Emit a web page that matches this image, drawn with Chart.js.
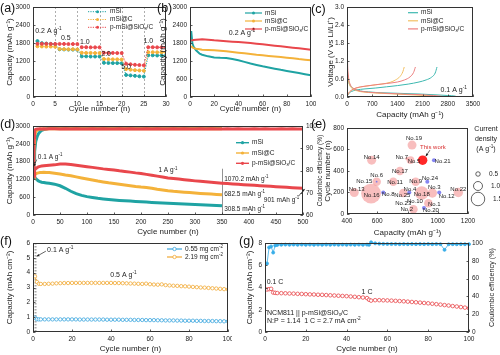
<!DOCTYPE html>
<html><head><meta charset="utf-8">
<script src="https://cdn.jsdelivr.net/npm/chart.js@4.4.1/dist/chart.umd.min.js"></script>
<style>
html,body{margin:0;padding:0;background:#fff;}
#wrap{position:relative;width:500px;height:355px;overflow:hidden;background:#fff;}
#wrap canvas{position:absolute;}
.pl{position:absolute;font-family:"Liberation Sans",Arial,sans-serif;font-size:12.5px;color:#111;line-height:1;z-index:5;}
</style></head><body>
<div id="wrap">
<div class="pl" style="left:0px;top:2px">(a)</div>
<div class="pl" style="left:157px;top:2px">(b)</div>
<div class="pl" style="left:311px;top:3px">(c)</div>
<div class="pl" style="left:0px;top:118px">(d)</div>
<div class="pl" style="left:311px;top:118px">(e)</div>
<div class="pl" style="left:0px;top:235px">(f)</div>
<div class="pl" style="left:239px;top:235px">(g)</div>
</div>
<script>
// ---------------- DATA ----------------
// (a) rate performance
const rateCycles = [1,2,3,4,5,6,7,8,9,10,11,12,13,14,15,16,17,18,19,20,21,22,23,24,25,26,27,28,29,30];
const rateMSi   = [1865,1795,1780,1770,1760, 1590,1585,1580,1580,1575, 1355,1355,1350,1350,1350, 1140,1135,1130,1130,1125, 735,720,705,690,680, 1390,1390,1385,1385,1385];
const rateMSiC  = [1690,1685,1680,1680,1675, 1600,1595,1590,1590,1585, 1475,1470,1470,1465,1465, 1265,1260,1255,1255,1250, 930,910,895,885,875, 1495,1495,1490,1490,1490];
const ratePMSi  = [1775,1775,1775,1770,1770, 1770,1770,1765,1765,1765, 1660,1660,1655,1655,1655, 1475,1470,1470,1465,1465, 1110,1090,1075,1065,1055, 1660,1660,1655,1655,1655];
const rateSwitch = [5,10,15,20,25];
const rateLabels = ['0.2 A g^{-1}','0.5','1.0','2.0','5.0','1.0'];
const rateLabelCycle = [0.5,7.4,11.7,16.5,21,26];
const rateLabelCap = [2210,1956,1845,1422,1011,1878];

// (b) cycling at 0.2 A g-1
const cycB    = [1,2,3,5,8,10,15,20,25,30,35,40,45,50,55,60,65,70,75,80,85,90,95,100];
const cycMSi  = [2200,1780,1670,1555,1445,1410,1355,1315,1305,1300,1265,1225,1170,1115,1070,1025,985,945,905,870,835,800,760,722];
const cycMSiC = [1700,1650,1630,1610,1590,1578,1565,1555,1540,1525,1500,1478,1455,1435,1410,1390,1370,1350,1330,1311,1290,1265,1245,1222];
const cycPMSi = [1880,1890,1900,1910,1918,1922,1910,1890,1875,1860,1845,1833,1815,1800,1778,1755,1735,1712,1690,1667,1645,1622,1600,1578];

// (c) voltage profiles at 0.1 A g-1
const cMSiDisCap  = [0,15,40,80,150,300,600,1000,1500,2000,2500,2800,3000,3060];
const cMSiDisV    = [1.05,0.8,0.55,0.4,0.3,0.22,0.17,0.14,0.12,0.1,0.07,0.05,0.03,0.005];
const cMSiChaCap  = [0,40,120,250,500,800,1100,1400,1700,2000,2200,2350,2450,2500];
const cMSiChaV    = [0.01,0.1,0.18,0.23,0.27,0.3,0.34,0.38,0.43,0.5,0.57,0.66,0.8,1.0];
const cMSiCDisCap = [0,15,40,80,150,300,600,1000,1500,2000,2400,2560];
const cMSiCDisV   = [1.2,0.85,0.55,0.38,0.28,0.2,0.15,0.12,0.09,0.06,0.03,0.005];
const cMSiCChaCap = [0,40,120,250,450,700,950,1200,1350,1470,1550,1590];
const cMSiCChaV   = [0.01,0.12,0.22,0.3,0.35,0.39,0.43,0.49,0.57,0.68,0.84,1.0];
const cPDisCap    = [0,5,15,40,80,150,300,600,1000,1500,2000,2400,2650,2740];
const cPDisV      = [3.0,2.0,1.2,0.7,0.45,0.32,0.22,0.16,0.13,0.1,0.08,0.05,0.02,0.005];
const cPChaCap    = [0,40,120,250,500,800,1100,1400,1600,1750,1850,1900];
const cPChaV      = [0.01,0.12,0.22,0.3,0.36,0.41,0.45,0.5,0.57,0.67,0.82,1.0];

// (d) long cycling at 1 A g-1
const dCycles = [1,2,3,5,8,10,13,16,20,25,30,40,50,60,70,80,90,100,110,120,130,140,150,160,170,180,190,200,210,220,230,240,250,260,270,280,290,300,310,320,330,340,350,360,370,380,390,400,410,420,430,440,450,460,470,480,490,500];
const dPMSi = [1920,1580,1520,1560,1600,1620,1640,1650,1660,1670,1680,1690,1720,1715,1700,1680,1655,1630,1605,1580,1555,1535,1515,1490,1470,1445,1420,1400,1370,1340,1310,1280,1250,1230,1210,1190,1170,1150,1134,1118,1102,1086,1070,1058,1046,1034,1022,1010,999,988,977,966,955,944,933,922,911,901];
const dMSiC = [1600,1420,1380,1390,1410,1420,1430,1436,1438,1435,1430,1410,1385,1350,1320,1285,1250,1215,1180,1145,1115,1085,1060,1035,1010,985,960,940,925,900,870,845,820,800,785,770,755,742,728,715,704,693,682.5];
const dMSi  = [1450,1380,1250,1230,1180,1150,1124,1105,1095,1080,1067,1040,985,900,800,720,660,620,590,562,540,522,505,492,480,470,458,447,436,425,414,404,393,385,377,369,361,353,344,335,326,317,308.5];
const dCEPMSi = [76.5,94.7,98.0,98.5,98.7,98.7,98.8,98.7,98.8,98.7,98.8,98.8,98.7,98.8,98.7,98.8,98.7,98.7,98.8,98.7,98.8,98.7,98.7,98.8,98.7,98.8,98.7,98.7,98.8,98.7,98.8,98.7,98.7,98.8,98.7,98.8,98.7,98.7,98.8,98.7,98.8,98.7,98.7,98.8,98.7,98.8,98.7,98.7,98.8,98.7,98.8,98.7,98.7,98.8,98.7,98.8,98.7,98.7];
const dCEMSiC = [81,92,95.5,97.5,98.2,98.5,98.6,98.7,98.7,98.7,98.8,98.8,98.8,98.8,98.8,98.8,98.8,98.8,98.8,98.8,98.8,98.8,98.8,98.8,98.8,98.8,98.8,98.8,98.8,98.8,98.8,98.8,98.8,98.8,98.8,98.8,98.8,98.8,98.8,98.8,98.8,98.8,98.8];
const dCEMSi  = [79,85.5,88.5,93,95.5,96.5,97.4,98,98.4,98.7,99,99.3,99.4,99.5,99.4,99.6,99.5,99.4,99.6,99.5,99.4,99.6,99.5,99.5,99.6,99.4,99.5,99.6,99.5,99.4,99.6,99.5,99.5,99.6,99.4,99.5,99.6,99.5,99.4,99.6,99.5,99.5,99.6];

// (e) comparison with literature
const eNames    = ['No.19','No.5','No.7','No.14','No.17','No.15','No.6','No.11','No.9','No.24','No.21','No.13','No.16','No.8','No.25','No.4','No.18','No.3','No.12','No.22','No.1','No.2','No.20','No.10','No.23'];
const eCapacity = [830,820,795,563,750,596,596,706,854,931,975,448,559,640,772,812,894,964,1010,1136,938,839,909,880,800];
const eCycles   = [640,500,515,500,400,300,300,300,300,300,500,200,190,200,195,200,195,195,200,200,100,45,55,110,80];
const eDensity  = [1.0,0.85,0.35,1.0,0.95,0.95,0.2,0.95,0.95,0.45,0.45,1.0,2.2,0.45,0.95,0.45,1.5,1.05,0.45,1.05,0.95,0.95,0.45,0,0];
const eGroup    = ['p','p','p','p','p','p','b','p','p','b','b','p','p','b','p','b','p','p','b','p','p','p','b','p','p'];
const eLabelCap = [843,843,762,563,750,514,596,717,854,949,1032,464,563,673,766,816,894,977,1059,1136,977,795,955,849,772];
const eLabelCyc = [701,485,524,530,396,306,360,290,306,330,492,231,171,186,171,231,180,245,162,231,90,42,30,120,96];
const thisWork  = {capacity:900, cycles:500, density:1.05};
const densityLegend = [0.5,1.0,1.5];

// (f) areal capacity
const fCycles = [1,2,3,4,6,8,10,12,14,16,18,20,22,24,26,28,30,32,34,36,38,40,42,44,46,48,50,52,54,56,58,60,62,64,66,68,70,72,74,76,78,80,82,84,86,88,90,92,94,96,98,100];
const fHigh = [3.75,3.38,3.25,3.24,3.24,3.25,3.26,3.28,3.29,3.3,3.3,3.31,3.31,3.31,3.31,3.31,3.31,3.31,3.31,3.31,3.31,3.31,3.3,3.3,3.29,3.28,3.27,3.26,3.25,3.24,3.26,3.22,3.2,3.19,3.21,3.16,3.14,3.12,3.11,3.09,3.08,3.06,3.04,3.02,3.0,2.99,2.97,2.95,2.93,2.91,2.89,2.87];
const fLow  = [0.97,0.86,0.85,0.85,0.85,0.85,0.85,0.85,0.85,0.85,0.85,0.85,0.85,0.84,0.84,0.84,0.84,0.84,0.84,0.84,0.83,0.83,0.83,0.83,0.82,0.82,0.82,0.81,0.81,0.81,0.8,0.8,0.8,0.79,0.79,0.78,0.78,0.78,0.77,0.77,0.76,0.76,0.76,0.75,0.75,0.74,0.74,0.74,0.73,0.73,0.72,0.72];

// (g) full cell
const gCycles = [1,2,3,4,5,6,8,10,12,14,16,18,20,22,24,26,28,30,32,34,36,38,40,42,44,46,48,50,51,52,54,56,58,60,62,64,66,68,70,72,74,76,78,80,82,84,86,88,90,92,94,96,98,100];
const gCap = [3.82,3.85,3.88,3.55,3.52,3.5,3.49,3.48,3.46,3.45,3.43,3.42,3.4,3.38,3.37,3.35,3.34,3.32,3.3,3.28,3.26,3.24,3.22,3.19,3.16,3.13,3.1,3.05,2.9,2.82,2.86,2.86,2.85,2.84,2.82,2.8,2.78,2.76,2.73,2.7,2.67,2.64,2.61,2.58,2.54,2.5,2.46,2.42,2.38,2.33,2.29,2.24,2.19,2.14];
const gCE  = [77,95,96.2,89.2,97.3,97.8,98.0,98.2,98.0,98.2,98.0,98.2,98.0,98.2,98.0,98.2,98.0,98.2,98.0,98.2,98.0,98.2,98.0,98.2,98.0,98.2,98.0,98.2,98.0,100.8,99.6,99.2,99.0,98.9,98.8,98.8,98.7,98.8,98.7,98.8,98.7,98.8,98.7,98.8,98.7,98.8,98.7,92.3,98.6,98.7,98.6,98.7,98.6,98.7];

// ---------------- HELPERS ----------------
const FAM = '"Liberation Sans", Arial, Helvetica, sans-serif';
Chart.defaults.font.family = FAM;
const TEAL='#1fa3a3', ORANGE='#f4b23a', RED='#e9474c';
const wrap = document.getElementById('wrap');
const DRAW = {};

function richParts(s){ const parts=[]; const re=/\^\{([^}]*)\}|_\{([^}]*)\}|([^\^_]+)/g; let m; while((m=re.exec(s))){ if(m[1]!==undefined) parts.push({t:m[1],k:'sup'}); else if(m[2]!==undefined) parts.push({t:m[2],k:'sub'}); else parts.push({t:m[3],k:'n'}); } return parts; }
function rich(ctx,s,x,y,size,color,align){
  const parts=richParts(s); let w=0;
  parts.forEach(p=>{ p.sz = p.k==='n'?size:size*0.68; ctx.font=p.sz+'px '+FAM; p.w=ctx.measureText(p.t).width; w+=p.w; });
  let cx = align==='center'? x-w/2 : align==='right'? x-w : x;
  ctx.save(); ctx.fillStyle=color; ctx.textBaseline='middle'; ctx.textAlign='left';
  parts.forEach(p=>{ ctx.font=p.sz+'px '+FAM; const dy = p.k==='sup'? -size*0.33 : p.k==='sub'? size*0.25 : 0; ctx.fillText(p.t,cx,y+dy); cx+=p.w; });
  ctx.restore(); return w;
}
function marker(ctx,x,y,r,color,open){ ctx.save(); ctx.beginPath(); ctx.arc(x,y,r,0,Math.PI*2); if(open){ ctx.fillStyle='#fff'; ctx.fill(); ctx.strokeStyle=color; ctx.lineWidth=0.8; ctx.stroke(); } else { ctx.fillStyle=color; ctx.fill(); } ctx.restore(); }
function legend(ctx,h,items,x0,x1,y0,dy,opt){
  items.forEach((it,i)=>{ const y=h.gy(y0+i*dy);
    ctx.save(); ctx.strokeStyle=it.c; ctx.lineWidth=opt.lw||1.2; ctx.setLineDash(opt.dash||[]);
    ctx.beginPath(); ctx.moveTo(h.gx(x0),y); ctx.lineTo(h.gx(x1),y); ctx.stroke(); ctx.restore();
    if(opt.marker) marker(ctx,h.gx((x0+x1)/2),y,opt.mr||1.6,it.c,opt.open);
    rich(ctx,it.t,h.gx(x1+3),y,opt.fs||6.5,'#222','left'); });
}
function arrow(ctx,x1,y1,x2,y2,color){ ctx.save(); ctx.strokeStyle=color; ctx.fillStyle=color; ctx.lineWidth=0.7; ctx.beginPath(); ctx.moveTo(x1,y1); ctx.lineTo(x2,y2); ctx.stroke(); const a=Math.atan2(y2-y1,x2-x1), L=3; ctx.beginPath(); ctx.moveTo(x2,y2); ctx.lineTo(x2-L*Math.cos(a-0.45),y2-L*Math.sin(a-0.45)); ctx.lineTo(x2-L*Math.cos(a+0.45),y2-L*Math.sin(a+0.45)); ctx.closePath(); ctx.fill(); ctx.restore(); }
function vtitle(ctx,text,x,y,size){ ctx.save(); ctx.translate(x,y); ctx.rotate(-Math.PI/2); ctx.font=size+'px '+FAM; ctx.fillStyle='#222'; ctx.textAlign='center'; ctx.textBaseline='middle'; ctx.fillText(text,0,0); ctx.restore(); }
function helpers(chart){ const b=DRAW[chart.canvas.id].box; return { X:v=>chart.scales.x.getPixelForValue(v), Y:v=>chart.scales.y.getPixelForValue(v), gx:x=>x-b.l, gy:y=>y-b.t, area:chart.chartArea }; }

const customPlugin = {
  id:'custom',
  beforeDatasetsDraw(chart){ const d=DRAW[chart.canvas.id]; if(d && d.pre){ const ctx=chart.ctx; ctx.save(); d.pre(ctx,helpers(chart)); ctx.restore(); } },
  afterDraw(chart){
    const d=DRAW[chart.canvas.id], ctx=chart.ctx, a=chart.chartArea;
    ctx.save(); ctx.strokeStyle='#333'; ctx.lineWidth=0.8;
    Object.values(chart.scales).forEach(s=>{ s.ticks.forEach(t=>{ const p=Math.round(s.getPixelForValue(t.value))+0.5; ctx.beginPath();
      if(s.axis==='x'){ ctx.moveTo(p,a.bottom); ctx.lineTo(p,a.bottom-2.5); }
      else if(s.position==='left'){ ctx.moveTo(a.left,p); ctx.lineTo(a.left+2.5,p); }
      else { ctx.moveTo(a.right,p); ctx.lineTo(a.right-2.5,p); }
      ctx.stroke(); }); });
    ctx.lineWidth=1; ctx.strokeStyle='#333';
    ctx.strokeRect(Math.round(a.left)+0.5, Math.round(a.top)+0.5, Math.round(a.right-a.left)-1, Math.round(a.bottom-a.top)-1);
    ctx.restore();
    if(d && d.post){ ctx.save(); d.post(ctx,helpers(chart)); ctx.restore(); }
  }
};

function zero(s){ s.paddingTop=0; s.paddingBottom=0; s.paddingLeft=0; s.paddingRight=0; }
function axis(pos,min,max,step,title,dec){
  return { type:'linear', position:pos, min:min, max:max,
    ticks:{ stepSize:step, autoSkip:false, maxRotation:0, minRotation:0, padding:3, color:'#222', font:{size:6.5,family:FAM},
      callback:(v)=> dec ? Number(v).toFixed(dec) : String(Math.round(v)) },
    grid:{ display:false, drawTicks:false },
    border:{ display:false },
    title:{ display:!!title, text:title||'', color:'#222', font:{size:8,family:FAM}, padding:0 } };
}
function pts(xs,ys){ return xs.map((x,i)=>({x:x,y:ys[i]})); }
function line(xs,ys,color,o){ return Object.assign({ data:pts(xs,ys), showLine:true, borderColor:color, backgroundColor:color, borderWidth:1.5, pointRadius:0, pointHoverRadius:0, fill:false, tension:0 }, o||{}); }

function make(id,box,plot,cfg,pre,post){
  const c=document.createElement('canvas'); c.id=id; c.width=box.w; c.height=box.h;
  c.style.left=box.l+'px'; c.style.top=box.t+'px'; c.style.width=box.w+'px'; c.style.height=box.h+'px';
  wrap.appendChild(c);
  DRAW[id]={pre:pre,post:post,box:box};
  const sc=cfg.options.scales;
  sc.x.afterFit = s=>{ s.height = box.t+box.h-plot.b; zero(s); };
  sc.y.afterFit = s=>{ s.width = plot.l-box.l; zero(s); };
  let pr = box.l+box.w-plot.r;
  if(sc.y2){ const w2=pr; sc.y2.afterFit = s=>{ s.width=w2; zero(s); }; pr=0; }
  cfg.options.layout={padding:{left:0,top:plot.t-box.t,right:pr,bottom:0}};
  cfg.options.responsive=false; cfg.options.maintainAspectRatio=false; cfg.options.animation=false; cfg.options.devicePixelRatio=1;
  cfg.options.events=[];
  cfg.options.plugins={legend:{display:false},tooltip:{enabled:false}};
  cfg.plugins=[customPlugin];
  return new Chart(c,cfg);
}

// ---------------- (a) ----------------
const dotA = {borderDash:[1.2,1.2], borderWidth:1, pointRadius:1.5};
make('ca',{l:5,t:0,w:165,h:114},{l:33,t:7,r:166,b:97},{
  type:'scatter',
  data:{datasets:[ line(rateCycles,ratePMSi,RED,dotA), line(rateCycles,rateMSiC,ORANGE,dotA), line(rateCycles,rateMSi,TEAL,dotA) ]},
  options:{scales:{ x:axis('bottom',0,30,5,'Cycle number (n)'), y:axis('left',0,3000,600,'Capacity (mAh g⁻¹)') }}
},(ctx,h)=>{
  ctx.strokeStyle='#9a9a9a'; ctx.lineWidth=0.8; ctx.setLineDash([2,2]);
  rateSwitch.forEach(c=>{ const x=Math.round(h.X(c))+0.5; ctx.beginPath(); ctx.moveTo(x,h.area.top); ctx.lineTo(x,h.area.bottom); ctx.stroke(); });
},(ctx,h)=>{
  legend(ctx,h,[{c:TEAL,t:'mSi'},{c:ORANGE,t:'mSi@C'},{c:RED,t:'p-mSi@SiO_{x}/C'}],88,107,11.7,7.8,{dash:[1.2,1.2],lw:1,marker:true,mr:1.5});
  rateLabels.forEach((t,i)=>{ rich(ctx,t,h.X(rateLabelCycle[i]),h.Y(rateLabelCap[i]),7,'#222',i===0?'left':'center'); });
});

// ---------------- (b) ----------------
make('cb',{l:158,t:0,w:158,h:114},{l:190,t:7,r:311,b:97},{
  type:'scatter',
  data:{datasets:[ line(cycB,cycPMSi,RED,{borderWidth:2}), line(cycB,cycMSiC,ORANGE,{borderWidth:2}), line(cycB,cycMSi,TEAL,{borderWidth:2}) ]},
  options:{scales:{ x:axis('bottom',0,100,20,'Cycle number (n)'), y:axis('left',0,3000,600,'Capacity (mAh g⁻¹)') }}
},null,(ctx,h)=>{
  legend(ctx,h,[{c:TEAL,t:'mSi'},{c:ORANGE,t:'mSi@C'},{c:RED,t:'p-mSi@SiO_{x}/C'}],245,262,13,8,{lw:1.2,marker:true,mr:1.5});
  rich(ctx,'0.2 A g^{-1}',h.X(43),h.Y(2133),7,'#222','center');
});

// ---------------- (c) ----------------
const thin = {borderWidth:1, cubicInterpolationMode:'monotone'};
const cTeal='#3db8b0', cOrange='#f3c063', cRed='#ec7f7f';
make('cc',{l:326,t:0,w:174,h:120},{l:347,t:7,r:473,b:97},{
  type:'scatter',
  data:{datasets:[
    line(cPDisCap,cPDisV,cRed,thin), line(cPChaCap,cPChaV,cRed,thin),
    line(cMSiCDisCap,cMSiCDisV,cOrange,thin), line(cMSiCChaCap,cMSiCChaV,cOrange,thin),
    line(cMSiDisCap,cMSiDisV,cTeal,thin), line(cMSiChaCap,cMSiChaV,cTeal,thin) ]},
  options:{scales:{ x:axis('bottom',0,3500,700,'Capacity (mAh g⁻¹)'), y:axis('left',0,3,0.6,'Voltage (V vs Li/Li⁺)',1) }}
},null,(ctx,h)=>{
  legend(ctx,h,[{c:cTeal,t:'mSi'},{c:cOrange,t:'mSi@C'},{c:cRed,t:'p-mSi@SiO_{x}/C'}],408,418,12.7,8.1,{lw:1.2});
  rich(ctx,'0.1 A g^{-1}',h.X(3330),h.Y(0.23),7,'#222','right');
});

// ---------------- (d) ----------------
const dCut = dMSi.length;
const thickD = {borderWidth:3};
make('cd',{l:5,t:118,w:320,h:119},{l:33,t:126,r:303,b:215},{
  type:'scatter',
  data:{datasets:[
    line(dCycles,dCEPMSi,RED,Object.assign({yAxisID:'y2'},thickD)),
    line(dCycles.slice(0,dCut),dCEMSiC,ORANGE,Object.assign({yAxisID:'y2'},thickD)),
    line(dCycles.slice(0,dCut),dCEMSi,TEAL,Object.assign({yAxisID:'y2'},thickD)),
    line(dCycles,dPMSi,RED,thickD),
    line(dCycles.slice(0,dCut),dMSiC,ORANGE,thickD),
    line(dCycles.slice(0,dCut),dMSi,TEAL,thickD) ]},
  options:{scales:{ x:axis('bottom',0,500,50,'Cycle number (n)'), y:axis('left',0,3000,600,'Capacity (mAh g⁻¹)'), y2:axis('right',60,100,10,'') }}
},(ctx,h)=>{
  ctx.strokeStyle='#777'; ctx.lineWidth=0.8; const x=Math.round(h.X(350))+0.5;
  ctx.beginPath(); ctx.moveTo(x,h.Y(0)); ctx.lineTo(x,h.Y(1560)); ctx.stroke();
},(ctx,h)=>{
  legend(ctx,h,[{c:TEAL,t:'mSi'},{c:ORANGE,t:'mSi@C'},{c:RED,t:'p-mSi@SiO_{x}/C'}],236,249,142.7,10.3,{lw:1.4,marker:true,mr:1.6});
  rich(ctx,'0.1 A g^{-1}',h.X(9),h.Y(1955),6.5,'#222','left');
  arrow(ctx,h.X(7),h.Y(1870),h.X(1.2),h.Y(1640),'#222');
  rich(ctx,'1 A g^{-1}',h.X(250),h.Y(1500),6.5,'#222','center');
  rich(ctx,'1070.2 mAh g^{-1}',h.X(354),h.Y(1203),6.5,'#222','left');
  rich(ctx,'682.5 mAh g^{-1}',h.X(354),h.Y(708),6.5,'#222','left');
  rich(ctx,'308.5 mAh g^{-1}',h.X(354),h.Y(191),6.5,'#222','left');
  rich(ctx,'901 mAh g^{-1}',h.X(493),h.Y(506),6.5,'#222','right');
  arrow(ctx,h.X(492),h.Y(640),h.X(503),h.Y(880),'#222');
  vtitle(ctx,'Coulombic efficiency (%)',h.gx(320.5),(h.area.top+h.area.bottom)/2,6.5);
});

// ---------------- (e) ----------------
const R = 4.5;
const pinkC='rgba(244,150,150,0.62)', blueC='rgba(112,112,238,0.85)';
make('ce',{l:323,t:118,w:177,h:120},{l:347,t:125,r:468,b:214},{
  type:'bubble',
  data:{datasets:[
    { data:[{x:thisWork.capacity,y:thisWork.cycles,r:thisWork.density*R}], backgroundColor:'#ff2828', borderWidth:0 },
    { data:eCapacity.map((c,i)=>({x:c,y:eCycles[i],r:eDensity[i]*R})), backgroundColor:eGroup.map(g=>g==='b'?blueC:pinkC), borderWidth:0 } ]},
  options:{scales:{ x:axis('bottom',400,1200,200,'Capacity (mAh g⁻¹)'), y:axis('left',0,800,200,'Cycle number (n)') }}
},null,(ctx,h)=>{
  eNames.forEach((n,i)=>{ rich(ctx,n,h.X(eLabelCap[i]),h.Y(eLabelCyc[i]),6,'#222','center'); });
  rich(ctx,'This work',h.X(968),h.Y(620),6,'#d83030','center');
  arrow(ctx,h.X(948),h.Y(593),h.X(921),h.Y(537),'#222');
  rich(ctx,'Current',h.gx(486),h.gy(129),7,'#222','center');
  rich(ctx,'density',h.gx(486),h.gy(139),7,'#222','center');
  rich(ctx,'(A g^{-1})',h.gx(486),h.gy(149.5),7,'#222','center');
  const ly=[174,186,199], lx=[489,491,493];
  densityLegend.forEach((d,i)=>{ ctx.save(); ctx.strokeStyle='#222'; ctx.lineWidth=0.7; ctx.beginPath(); ctx.arc(h.gx(478),h.gy(ly[i]),d*R,0,Math.PI*2); ctx.stroke(); ctx.restore();
    rich(ctx,d.toFixed(1),h.gx(lx[i]),h.gy(ly[i]),6.5,'#222','left'); });
});

// ---------------- (f) ----------------
const fBlue='#3ba6de', fOrange='#f1a935';
const openF = {borderWidth:1, pointRadius:1.7, pointBackgroundColor:'#fff', pointBorderWidth:0.8};
make('cf',{l:5,t:236,w:227,h:118},{l:33,t:243,r:228,b:332},{
  type:'scatter',
  data:{datasets:[ line(fCycles,fHigh,fOrange,Object.assign({pointBorderColor:fOrange},openF)), line(fCycles,fLow,fBlue,Object.assign({pointBorderColor:fBlue},openF)) ]},
  options:{scales:{ x:axis('bottom',0,100,20,'Cycle number (n)'), y:axis('left',0,6,1,'Capacity (mAh cm⁻²)') }}
},(ctx,h)=>{
  ctx.strokeStyle='#aaa'; ctx.lineWidth=2; ctx.setLineDash([1.5,1.5]); const x=h.X(1.3);
  ctx.beginPath(); ctx.moveTo(x,h.area.top); ctx.lineTo(x,h.area.bottom); ctx.stroke();
},(ctx,h)=>{
  legend(ctx,h,[{c:fBlue,t:'0.55 mg cm^{-2}'},{c:fOrange,t:'2.19 mg cm^{-2}'}],167,182,249,8,{lw:1.2,marker:true,mr:1.7,open:true});
  rich(ctx,'0.1 A g^{-1}',h.X(7.2),h.Y(5.53),7,'#222','left');
  arrow(ctx,h.X(6.6),h.Y(5.45),h.X(1.9),h.Y(5.1),'#222');
  rich(ctx,'0.5 A g^{-1}',h.X(46.4),h.Y(3.84),7,'#222','center');
});

// ---------------- (g) ----------------
const gRed='#e8464a', gBlue='#37ade8';
make('cg',{l:245,t:236,w:252,h:118},{l:265,t:243,r:469,b:332},{
  type:'scatter',
  data:{datasets:[
    line(gCycles,gCE,gBlue,{yAxisID:'y2',borderWidth:0.8,pointRadius:1.5,clip:4}),
    line(gCycles,gCap,gRed,{borderWidth:0.8,pointRadius:1.8,pointBackgroundColor:'#fff',pointBorderColor:gRed,pointBorderWidth:0.8}) ]},
  options:{scales:{ x:axis('bottom',0,100,20,'Cycle number (n)'), y:axis('left',0,8,2,'Capacity (mAh cm⁻²)'), y2:axis('right',0,100,20,'') }}
},null,(ctx,h)=>{
  rich(ctx,'0.1 C',h.X(4.9),h.Y(4.52),7,'#222','center');
  rich(ctx,'1 C',h.X(50),h.Y(3.62),7,'#222','center');
  rich(ctx,'NCM811 || p-mSi@SiO_{x}/C',h.X(1),h.Y(1.74),7,'#222','left');
  rich(ctx,'N:P = 1.14  1 C = 2.7 mA cm^{-2}',h.X(1),h.Y(0.99),7,'#222','left');
  vtitle(ctx,'Coulombic efficiency (%)',h.gx(492),(h.area.top+h.area.bottom)/2,7.2);
});
</script>
</body></html>
